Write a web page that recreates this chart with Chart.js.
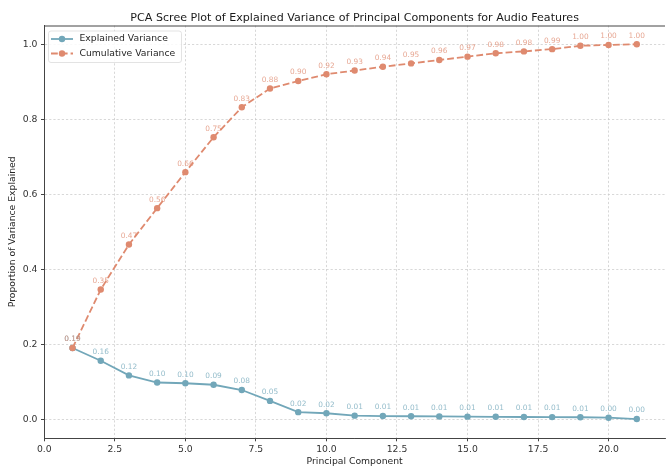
<!DOCTYPE html>
<html>
<head>
<meta charset="utf-8">
<script src="https://cdn.jsdelivr.net/npm/chart.js@4/dist/chart.umd.min.js"></script>
<style>
  html, body { margin: 0; padding: 0; overflow: hidden; background: #fff; }
  #wrap { width: 669px; height: 470px; }
</style>
</head>
<body>
<div id="wrap"><canvas id="c" width="669" height="470"></canvas></div>
<script>
// Principal component index
const components = [1, 2, 3, 4, 5, 6, 7, 8, 9, 10, 11, 12, 13, 14, 15, 16, 17, 18, 19, 20, 21];
// Proportion of variance explained by each component
const explainedVariance = [0.19, 0.156, 0.117, 0.098, 0.096, 0.092, 0.078, 0.049, 0.019, 0.016,
  0.0096, 0.0085, 0.008, 0.0075, 0.007, 0.0065, 0.006, 0.0058, 0.0053, 0.0042, 0.0005];
// Running total of explained variance
const cumulativeVariance = [0.19, 0.346, 0.466, 0.563, 0.659, 0.752, 0.832, 0.882, 0.902, 0.92,
  0.93, 0.94, 0.949, 0.958, 0.967, 0.976, 0.981, 0.987, 0.996, 0.998, 1.0];
// Axis ticks
const xTickValues = [0, 2.5, 5, 7.5, 10, 12.5, 15, 17.5, 20];
const yTickValues = [0, 0.2, 0.4, 0.6, 0.8, 1.0];

const seriesNames = ['Explained Variance', 'Cumulative Variance'];
const colExplained = '#72a7b9';
const colCumulative = '#df8a6f';
const labExplained = 'rgba(114,167,185,0.75)';
const labCumulative = 'rgba(223,138,111,0.75)';
const FONT = 'DejaVu Sans';

const toPoints = vals => vals.map((v, i) => ({ x: components[i], y: v }));

// Value labels above each marker, top frame line, title and legend
const decorations = {
  id: 'decorations',
  afterDatasetsDraw(chart) {
    const ctx = chart.ctx;
    ctx.save();
    ctx.font = '7.4px "' + FONT + '"';
    ctx.textAlign = 'center';
    ctx.textBaseline = 'middle';
    const labelCols = [labExplained, labCumulative];
    [0, 1].forEach(di => {
      const meta = chart.getDatasetMeta(di);
      const vals = chart.data.datasets[di].data;
      ctx.fillStyle = labelCols[di];
      meta.data.forEach((pt, i) => {
        ctx.fillText(vals[i].y.toFixed(2), pt.x, pt.y - 8.5);
      });
    });
    ctx.restore();
  },
  afterDraw(chart) {
    const ctx = chart.ctx;
    const area = chart.chartArea;
    ctx.save();
    // top frame line
    ctx.strokeStyle = '#444';
    ctx.lineWidth = 1;
    ctx.beginPath();
    ctx.moveTo(area.left, area.top + 0.5);
    ctx.lineTo(area.right, area.top + 0.5);
    ctx.stroke();

    // title centred over the plot area
    ctx.fillStyle = '#1a1a1a';
    ctx.font = '11.1px "' + FONT + '"';
    ctx.textAlign = 'center';
    ctx.textBaseline = 'alphabetic';
    ctx.fillText('PCA Scree Plot of Explained Variance of Principal Components for Audio Features',
      (area.left + area.right) / 2, 20.5);

    // legend
    const bx = 48.5, by = 31, bw = 133, bh = 31.5, r = 2.5;
    ctx.fillStyle = 'rgba(255,255,255,0.85)';
    ctx.strokeStyle = '#dcdcdc';
    ctx.lineWidth = 0.8;
    ctx.beginPath();
    ctx.moveTo(bx + r, by);
    ctx.lineTo(bx + bw - r, by);
    ctx.arcTo(bx + bw, by, bx + bw, by + r, r);
    ctx.lineTo(bx + bw, by + bh - r);
    ctx.arcTo(bx + bw, by + bh, bx + bw - r, by + bh, r);
    ctx.lineTo(bx + r, by + bh);
    ctx.arcTo(bx, by + bh, bx, by + bh - r, r);
    ctx.lineTo(bx, by + r);
    ctx.arcTo(bx, by, bx + r, by, r);
    ctx.closePath();
    ctx.fill();
    ctx.stroke();

    const rows = [
      { y: 39, col: colExplained, dash: [] },
      { y: 53.5, col: colCumulative, dash: [6.8, 3] }
    ];
    rows.forEach((row, i) => {
      ctx.strokeStyle = row.col;
      ctx.lineWidth = 1.8;
      ctx.setLineDash(row.dash);
      ctx.beginPath();
      ctx.moveTo(51, row.y);
      ctx.lineTo(73, row.y);
      ctx.stroke();
      ctx.setLineDash([]);
      ctx.fillStyle = row.col;
      ctx.beginPath();
      ctx.arc(62, row.y, 3.2, 0, Math.PI * 2);
      ctx.fill();
      ctx.fillStyle = '#262626';
      ctx.font = '9.25px "' + FONT + '"';
      ctx.textAlign = 'left';
      ctx.textBaseline = 'middle';
      ctx.fillText(seriesNames[i], 79.5, row.y);
    });
    ctx.restore();
  }
};

const gridCommon = {
  color: 'rgba(200,200,200,0.9)',
  lineWidth: 0.8,
  tickColor: '#444',
  tickBorderDash: [],
  tickWidth: 1,
  tickLength: 3.3
};
// in Chart.js v4 border.dash sets the dash of the grid lines
const borderCommon = { display: true, color: '#444', width: 1, dash: [2.2, 2] };

new Chart(document.getElementById('c'), {
  type: 'line',
  data: {
    datasets: [
      {
        label: seriesNames[0],
        data: toPoints(explainedVariance),
        borderColor: colExplained,
        backgroundColor: colExplained,
        pointBackgroundColor: colExplained,
        pointBorderWidth: 0,
        pointRadius: 3.2,
        borderWidth: 1.8,
        tension: 0,
        order: 2
      },
      {
        label: seriesNames[1],
        data: toPoints(cumulativeVariance),
        borderColor: colCumulative,
        backgroundColor: colCumulative,
        pointBackgroundColor: colCumulative,
        pointBorderWidth: 0,
        pointRadius: 3.2,
        borderWidth: 1.8,
        borderDash: [6.8, 3],
        tension: 0,
        order: 1
      }
    ]
  },
  options: {
    responsive: false,
    animation: false,
    devicePixelRatio: 1,
    layout: { padding: { top: 25.5, right: 0, bottom: 0, left: 0 } },
    plugins: {
      legend: { display: false },
      tooltip: { enabled: false },
      title: { display: false }
    },
    scales: {
      x: {
        type: 'linear',
        min: 0,
        max: 22,
        afterBuildTicks: s => { s.ticks = xTickValues.map(v => ({ value: v })); },
        afterFit: s => { s.height = 32; },
        grid: gridCommon,
        border: borderCommon,
        ticks: {
          color: '#333',
          padding: 2.5,
          maxRotation: 0,
          autoSkip: false,
          font: { family: FONT, size: 9.25 },
          callback: v => Number(v).toFixed(1)
        },
        title: {
          display: true,
          text: 'Principal Component',
          color: '#262626',
          font: { family: FONT, size: 9.25 },
          padding: { top: 0, bottom: 2.4 }
        }
      },
      y: {
        type: 'linear',
        min: -0.05,
        max: 1.05,
        afterBuildTicks: s => { s.ticks = yTickValues.map(v => ({ value: v })); },
        afterFit: s => { s.width = 44.3; },
        grid: gridCommon,
        border: borderCommon,
        ticks: {
          color: '#333',
          padding: 3.5,
          autoSkip: false,
          font: { family: FONT, size: 9.25 },
          callback: v => Number(v).toFixed(1)
        },
        title: {
          display: true,
          text: 'Proportion of Variance Explained',
          color: '#262626',
          font: { family: FONT, size: 9.25 },
          padding: { top: 7.4, bottom: 0 }
        }
      }
    }
  },
  plugins: [decorations]
});
</script>
</body>
</html>
